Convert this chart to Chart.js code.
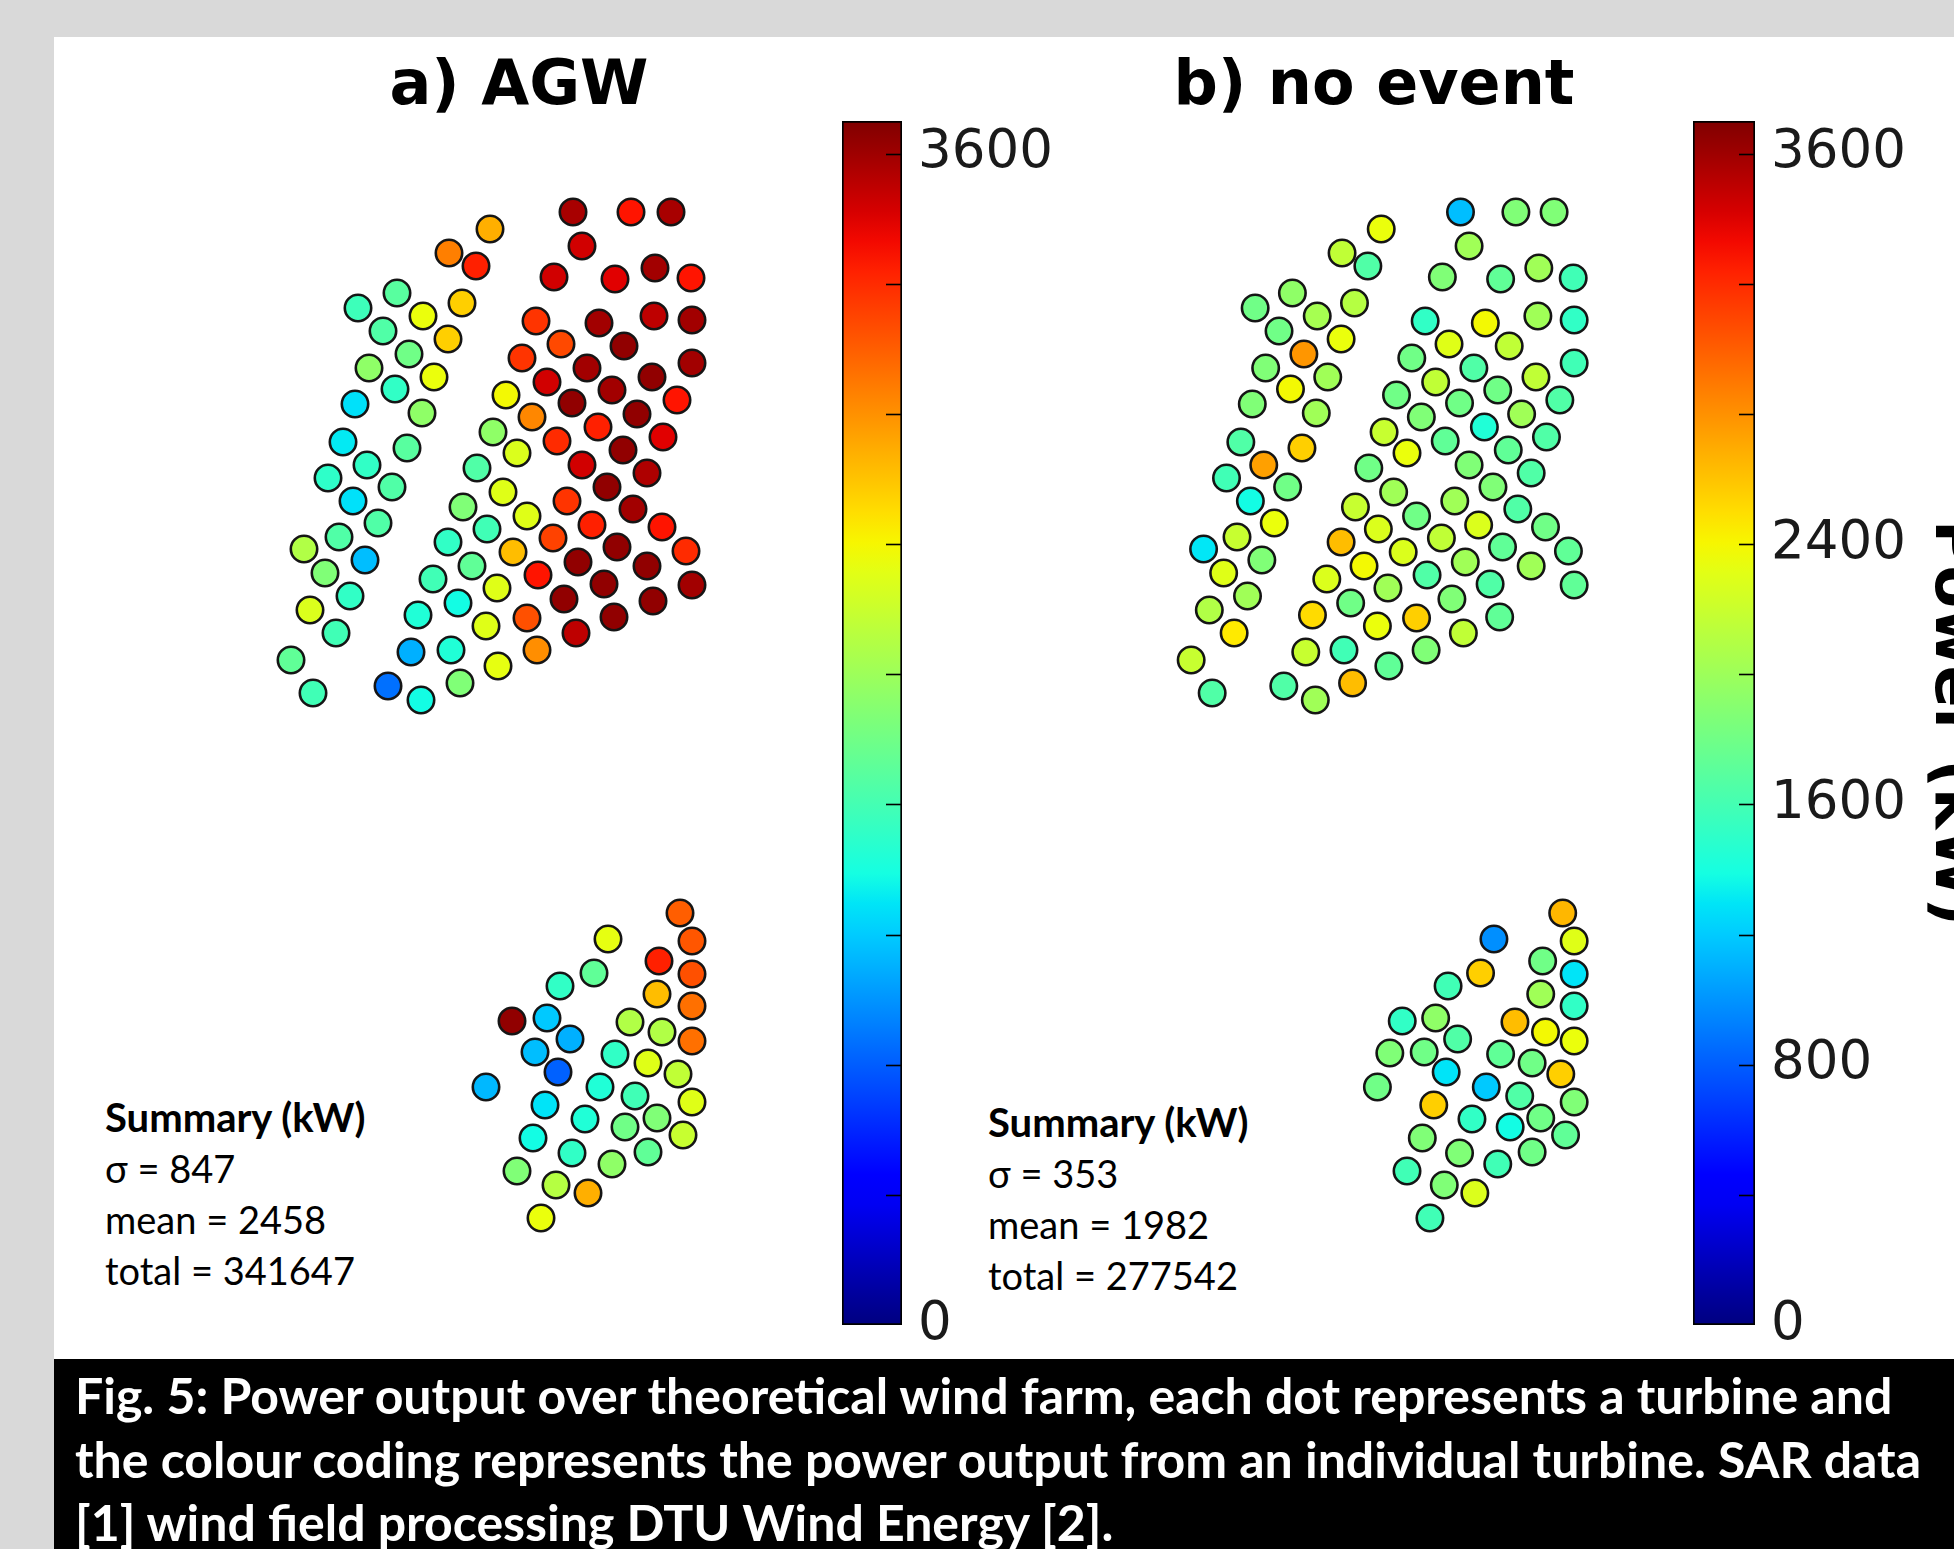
<!DOCTYPE html>
<html>
<head>
<meta charset="utf-8">
<script src="https://cdn.jsdelivr.net/npm/chart.js@4.4.1/dist/chart.umd.min.js"></script>
<style>
    html, body { margin: 0; padding: 0; }
    body { width: 1954px; height: 1549px; background: #d9d9d9; position: relative; overflow: hidden; }
    #panel { position: absolute; left: 54px; top: 37px; width: 1900px; height: 1322px; background: #fff; }
    #caption { position: absolute; left: 54px; top: 1359px; width: 1900px; height: 190px; background: #000; overflow: hidden; }
    canvas { position: absolute; }
    .title { position: absolute; top: 52px; width: 700px; text-align: center; font: bold 62px/62px 'DejaVu Sans', sans-serif; color: #000; }
    .summary { position: absolute; font: 38px/51px Lato, 'Open Sans', sans-serif; color: #000; white-space: nowrap; }
    .summary .head { font-weight: bold; font-size: 40px; }
    .cap { position: absolute; left: 21px; top: 5px; font: bold 50px/63.5px Lato, 'Open Sans', sans-serif; color: #fff; white-space: nowrap; }
</style>
</head>
<body>
<div id="panel"></div>
<div id="caption">
    <div class="cap">Fig. 5: Power output over theoretical wind farm, each dot represents a turbine and<br>the colour coding represents the power output from an individual turbine. SAR data<br>[1] wind field processing DTU Wind Energy [2].</div>
</div>

<div class="title" style="left:169px">a) AGW</div>
<div class="title" style="left:1024px">b) no event</div>

<div class="summary" style="left:105px; top:1092px">
    <div class="head">Summary (kW)</div>
    <div>σ = 847</div>
    <div>mean = 2458</div>
    <div>total = 341647</div>
</div>
<div class="summary" style="left:988px; top:1097px">
    <div class="head">Summary (kW)</div>
    <div>σ = 353</div>
    <div>mean = 1982</div>
    <div>total = 277542</div>
</div>

<canvas id="farmA" width="490" height="1070" style="left:250px; top:180px"></canvas>
<canvas id="cbarA" width="260" height="1314" style="left:842px; top:66px"></canvas>
<canvas id="farmB" width="468" height="1070" style="left:1152px; top:180px"></canvas>
<canvas id="cbarB" width="296" height="1314" style="left:1693px; top:66px"></canvas>

<script>
// turbine positions (arbitrary units), same layout in both panels
const turbineX = [
    32.3, 38.1, 42.1, 24.0, 33.2, 19.9, 22.6, 30.4, 36.5, 40.5, 44.1, 14.7, 10.8, 21.2, 17.3, 13.3,
    19.8, 28.6, 34.9, 40.4, 44.2, 31.1, 37.4, 15.9, 11.9, 18.4, 27.2, 33.7, 40.2, 44.2, 14.5, 29.7,
    36.2, 10.5, 17.2, 25.6, 32.2, 42.7, 28.2, 34.8, 38.7, 9.3, 15.7, 24.3, 30.7, 41.3, 26.7, 37.3,
    11.7, 7.8, 14.2, 22.7, 33.2, 39.7, 10.3, 25.3, 31.7, 35.7, 21.3, 12.8, 27.7, 38.3, 8.9, 23.7,
    34.2, 41.2, 5.4, 11.5, 19.8, 26.3, 30.3, 36.7, 43.6, 7.5, 22.2, 32.8, 39.7, 28.8, 10.0, 18.3,
    24.7, 35.4, 44.2, 6.0, 20.8, 31.4, 40.3, 16.8, 23.6, 27.7, 36.4, 8.6, 32.6, 4.1, 16.1, 20.1,
    28.7, 24.8, 6.3, 13.8, 21.0, 17.1,
    43.0, 44.2, 35.8, 40.9, 44.2, 34.4, 31.0, 40.7, 44.2, 26.2, 29.7, 38.0, 41.2, 44.2, 32.0, 28.5,
    36.5, 39.8, 30.8, 42.8, 23.6, 35.0, 38.5, 44.2, 29.5, 40.7, 33.5, 37.5, 43.3, 28.3, 32.2, 39.8,
    26.7, 36.2, 30.6, 33.8, 29.1, 24.9
];
const turbineY = [
    103.8, 103.8, 103.8, 102.1, 100.4, 99.7, 98.4, 97.3, 97.1, 98.2, 97.2, 95.7, 94.2, 94.7, 93.4, 91.9,
    91.1, 92.9, 92.7, 93.4, 93.0, 90.6, 90.4, 89.6, 88.2, 87.3, 89.2, 88.2, 87.3, 88.7, 86.1, 86.8,
    86.0, 84.6, 83.7, 85.5, 84.7, 85.0, 83.3, 82.3, 83.6, 80.8, 80.2, 81.8, 80.9, 81.3, 79.7, 80.0,
    78.5, 77.2, 76.3, 78.2, 78.5, 77.7, 74.9, 75.8, 74.9, 76.3, 74.3, 72.7, 73.4, 74.1, 71.3, 72.1,
    72.5, 72.3, 70.1, 69.0, 70.8, 69.8, 71.2, 70.3, 69.9, 67.7, 68.4, 68.8, 68.4, 67.5, 65.4, 67.1,
    66.2, 66.6, 66.5, 64.0, 64.7, 65.1, 64.9, 63.5, 62.4, 63.2, 63.3, 61.7, 61.7, 59.0, 59.8, 60.0,
    60.0, 58.4, 55.7, 56.4, 56.7, 55.0,
    33.7, 30.9, 31.1, 28.9, 27.6, 27.7, 26.4, 25.6, 24.4, 22.9, 23.2, 22.8, 21.8, 20.9, 21.1, 19.8,
    19.6, 18.7, 17.8, 17.6, 16.3, 16.3, 15.4, 14.8, 14.5, 13.2, 13.1, 12.3, 11.5, 11.2, 9.7, 9.8,
    7.9, 8.6, 6.5, 5.7, 3.2, 19.7
];

// power per turbine (kW), null where no turbine is shown
const powerAGW = [
    3570, 3290, 3570, 2680, 3440, 2870, 3240, 3440, 3390, 3590, 3290, 1690, 1570, 2555, 2350, 1655,
    2555, 3165, 3590, 3500, 3590, 3080, 3645, 1800, 1940, 2350, 3165, 3590, 3645, 3590, 1515, 3440,
    3590, 1280, 1940, 2390, 3645, 3290, 2840, 3240, 3645, 1310, 1690, 1940, 3200, 3390, 2280, 3645,
    1515, 1500, 1655, 1655, 3440, 3550, 1280, 2300, 3165, 3645, 1870, 1655, 2300, 3590, 1655, 1585,
    3240, 3290, 2090, 1150, 1515, 2625, 3110, 3645, 3200, 1870, 1725, 3645, 3645, 3290, 1515, 1585,
    2300, 3645, 3590, 2280, 1380, 3645, 3645, 1440, 2300, 3055, 3645, 1585, 3500, 1725, 1100, 1440,
    2810, 2330, 1585, 870, 1870, 1380,
    3000, 3030, 2330, 3240, 3055, 1725, 1515, 2625, 2930, 3645, 1190, 2090, 2090, 2930, 1100, 1150,
    1515, 2300, 815, 2160, 1130, 1440, 1585, 2300, 1290, 1870, 1440, 1800, 2190, 1380, 1515, 1725,
    1870, 1940, 2110, 2680, 2350, null
];
const powerNoEvent = [
    1150, 1870, 1870, 2350, 2015, 2160, 1655, 1870, 1725, 2015, 1585, 1940, 1800, 2110, 2040, 1800,
    2350, 1515, 2390, 2015, 1515, 2300, 2160, 2780, 1870, 2015, 1800, 1655, 2160, 1585, 2390, 2160,
    1800, 1870, 2015, 1800, 1800, 1655, 1870, 1440, 2015, 1655, 2555, 2190, 1725, 1655, 2350, 1725,
    2740, 1585, 1800, 1800, 1870, 1655, 1380, 2015, 2015, 1870, 2190, 2350, 1800, 1655, 2190, 2280,
    2280, 1800, 1300, 1870, 2625, 2280, 2160, 1725, 1725, 2300, 2390, 2015, 2015, 1655, 2015, 2280,
    2015, 1655, 1725, 2090, 1800, 1870, null, 2510, 2350, 2555, 1725, 2450, 2160, 2190, 2190, 1585,
    1870, 1725, 1655, 1655, 2625, 2015,
    2650, 2300, 980, 1800, 1290, 2555, 1585, 2015, 1515, 1515, 1940, 2625, 2390, 2350, 1655, 1800,
    1725, 1800, 1290, 2555, 1800, 1190, 1655, 1870, 2555, 1800, 1515, 1380, 1725, 1870, 1870, 1800,
    1585, 1585, 1870, 2280, 1585, 1870
];

// colour bar
const cbarMax = 3700;
const cbarTicks = [0, 400, 800, 1200, 1600, 2000, 2400, 2800, 3200, 3600];
const cbarLabelsA = [0, 3600];
const cbarLabelsB = [0, 800, 1600, 2400, 3600];

// matplotlib "jet"
const JET = {
    r: [[0, 0], [0.35, 0], [0.66, 1], [0.89, 1], [1, 0.5]],
    g: [[0, 0], [0.125, 0], [0.375, 1], [0.64, 1], [0.91, 0], [1, 0]],
    b: [[0, 0.5], [0.11, 1], [0.34, 1], [0.65, 0], [1, 0]]
};
const interp = (pts, t) => {
    for (let i = 1; i < pts.length; i++) {
        if (t <= pts[i][0]) {
            const [x0, y0] = pts[i - 1], [x1, y1] = pts[i];
            return y0 + (y1 - y0) * (t - x0) / (x1 - x0);
        }
    }
    return pts[pts.length - 1][1];
};
const jet = (t) => {
    t = Math.min(1, Math.max(0, t));
    const c = k => Math.round(255 * interp(JET[k], t));
    return `rgb(${c('r')},${c('g')},${c('b')})`;
};

const farmConfig = (values, xMax) => {
    const points = [];
    const colors = [];
    turbineX.forEach((x, i) => {
        if (values[i] === null) return;
        points.push({ x: x, y: turbineY[i] });
        colors.push(jet(values[i] / cbarMax));
    });
    return {
        type: 'scatter',
        data: {
            datasets: [{
                data: points,
                backgroundColor: colors,
                borderColor: '#151515',
                borderWidth: 2.6,
                pointRadius: 13.2,
                pointHoverRadius: 13.2,
                clip: false
            }]
        },
        options: {
            responsive: false,
            animation: false,
            events: [],
            layout: { padding: 0, autoPadding: false },
            plugins: { legend: { display: false }, tooltip: { enabled: false } },
            scales: {
                x: { type: 'linear', display: false, min: 0, max: xMax },
                y: { type: 'linear', display: false, min: 0, max: 107 }
            }
        }
    };
};

// short tick marks drawn inside the right edge of the bar
const tickMarks = {
    id: 'tickMarks',
    afterDatasetsDraw(chart) {
        const { ctx, chartArea, scales: { y } } = chart;
        ctx.save();
        ctx.strokeStyle = '#000';
        ctx.lineWidth = 1.6;
        cbarTicks.forEach(v => {
            if (v === 0) return;
            const py = Math.round(y.getPixelForValue(v)) + 0.5;
            ctx.beginPath();
            ctx.moveTo(chartArea.right - 16, py);
            ctx.lineTo(chartArea.right - 1, py);
            ctx.stroke();
        });
        ctx.restore();
    }
};

const colorbarConfig = (labels, axisWidth, showTitle) => ({
    type: 'bar',
    data: {
        labels: [''],
        datasets: [{
            data: [cbarMax],
            backgroundColor: (c) => {
                const { ctx, chartArea } = c.chart;
                if (!chartArea) return '#000';
                const g = ctx.createLinearGradient(0, chartArea.bottom, 0, chartArea.top);
                for (let i = 0; i <= 40; i++) g.addColorStop(i / 40, jet(i / 40));
                return g;
            },
            borderColor: '#000',
            borderWidth: 2,
            borderSkipped: false,
            barPercentage: 1,
            categoryPercentage: 1
        }]
    },
    options: {
        responsive: false,
        animation: false,
        events: [],
        layout: { padding: { top: 55, bottom: 55, left: 0, right: 0 } },
        plugins: { legend: { display: false }, tooltip: { enabled: false } },
        scales: {
            x: { display: false },
            y: {
                position: 'right',
                min: 0,
                max: cbarMax,
                grid: { display: false },
                border: { display: false },
                afterBuildTicks: (s) => { s.ticks = cbarTicks.map(v => ({ value: v })); },
                afterFit: (s) => { s.width = axisWidth; },
                ticks: {
                    padding: 8,
                    color: '#1a1a1a',
                    font: { family: 'DejaVu Sans', size: 53 },
                    callback: (v) => labels.includes(v) ? String(v) : ''
                },
                title: {
                    display: showTitle,
                    text: 'Power (kW)',
                    color: '#000',
                    padding: 0,
                    font: { family: 'DejaVu Sans', size: 62, weight: 'bold' }
                }
            }
        }
    },
    plugins: [tickMarks]
});

new Chart(document.getElementById('farmA'), farmConfig(powerAGW, 49));
new Chart(document.getElementById('farmB'), farmConfig(powerNoEvent, 49));
new Chart(document.getElementById('cbarA'), colorbarConfig(cbarLabelsA, 200, false));
new Chart(document.getElementById('cbarB'), colorbarConfig(cbarLabelsB, 234, true));
</script>
</body>
</html>
